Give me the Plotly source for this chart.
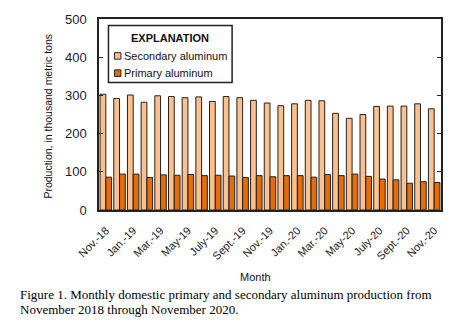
import plotly.graph_objects as go

months = ["Nov.-18", "Dec.-18", "Jan.-19", "Feb.-19", "Mar.-19", "Apr.-19", "May-19", "June-19",
          "July-19", "Aug.-19", "Sept.-19", "Oct.-19", "Nov.-19", "Dec.-19", "Jan.-20", "Feb.-20",
          "Mar.-20", "Apr.-20", "May-20", "June-20", "July-20", "Aug.-20", "Sept.-20", "Oct.-20", "Nov.-20"]
secondary = [303, 292, 301, 282, 299, 297, 294, 296, 284, 297, 294, 287, 280,
             273, 278, 287, 286, 253, 240, 250, 271, 272, 272, 278, 265]
primary = [86, 94, 94, 85, 92, 91, 93, 90, 91, 89, 85, 90, 87,
           90, 90, 86, 93, 90, 94, 88, 81, 79, 70, 74, 72]
y_ticks = [0, 100, 200, 300, 400, 500]
series_names = ["Secondary aluminum", "Primary aluminum"]
series_colors = ["#FBC08E", "#E46C0A"]

x = list(range(len(months)))
tick_idx = x[::2]
tick_txt = [months[i] for i in tick_idx]

SANS = "Liberation Sans, Arial"
SERIF = "Liberation Serif, Times New Roman, serif"

# pixel geometry helpers (plot area: left 99, right 442, top 16, bottom 210)
L, R, T, B = 99, 442, 16, 210
def px(v):
    return (v - L) / (R - L)
def py(v):
    return (B - v) / (B - T)

fig = go.Figure()
for name, vals, col in zip(series_names, [secondary, primary], series_colors):
    fig.add_trace(go.Bar(x=x, y=vals, name=name, showlegend=False,
                         marker=dict(color=col, line=dict(color="#222", width=1))))

shapes = [
    dict(type="rect", xref="paper", yref="paper", x0=px(108.5), x1=px(232.5), y0=py(22.5), y1=py(80.5),
         line=dict(color="#222", width=1.5), fillcolor="white", layer="above"),
]
annotations = [
    dict(text="<b>EXPLANATION</b>", xref="paper", yref="paper", x=px(170.5), y=py(35),
         showarrow=False, xanchor="center", yanchor="middle", font=dict(size=11, family=SANS, color="#111")),
]
for i, (name, col) in enumerate(zip(series_names, series_colors)):
    cy = 53.5 + i * 17.5
    shapes.append(dict(type="rect", xref="paper", yref="paper", x0=px(114.5), x1=px(121),
                       y0=py(cy - 3.3), y1=py(cy + 3.3), line=dict(color="#222", width=1),
                       fillcolor=col, layer="above"))
    annotations.append(dict(text=name, xref="paper", yref="paper", x=px(122.5), y=py(cy),
                            showarrow=False, xanchor="left", yanchor="middle",
                            font=dict(size=11, family=SANS, color="#111")))

annotations += [
    dict(text="Production, in thousand metric tons", xref="paper", yref="paper",
         x=px(48), y=py(115), textangle=-90, showarrow=False,
         font=dict(size=10.5, family=SANS, color="#111"), xanchor="center", yanchor="middle"),
    dict(text="Month", xref="paper", yref="paper", x=px(256), y=py(278),
         showarrow=False, font=dict(size=11, family=SANS, color="#111"), xanchor="center", yanchor="middle"),
    dict(text="Figure 1. Monthly domestic primary and secondary aluminum production from",
         xref="paper", yref="paper", x=px(18), y=py(296), xanchor="left", yanchor="middle",
         showarrow=False, font=dict(size=13, family=SERIF, color="black")),
    dict(text="November 2018 through November 2020.",
         xref="paper", yref="paper", x=px(18), y=py(311), xanchor="left", yanchor="middle",
         showarrow=False, font=dict(size=13, family=SERIF, color="black")),
]

fig.update_layout(
    width=455, height=331,
    margin=dict(l=L, r=455 - R, t=T, b=331 - B),
    paper_bgcolor="white", plot_bgcolor="white",
    barmode="group", bargap=0.16, bargroupgap=0,
    font=dict(family=SANS, size=12, color="#1a1a1a"),
    showlegend=False,
    xaxis=dict(
        range=[-0.5, len(months) - 0.5],
        tickmode="array", tickvals=tick_idx, ticktext=tick_txt,
        tickangle=-45, tickfont=dict(size=11, family=SANS, color="#1a1a1a"),
        ticklabelstandoff=8,
        ticks="", showgrid=False, zeroline=False,
        showline=True, linecolor="#222", linewidth=1.5, mirror=True,
    ),
    yaxis=dict(
        range=[0, 500], tickmode="array", tickvals=y_ticks,
        tickfont=dict(size=13, family=SANS, color="#1a1a30"), ticklabelstandoff=8,
        ticks="inside", ticklen=4, tickcolor="#222", showgrid=False, zeroline=False,
        showline=True, linecolor="#222", linewidth=1.5, mirror="ticks",
    ),
    shapes=shapes,
    annotations=annotations,
)

fig.write_html("out.html")
